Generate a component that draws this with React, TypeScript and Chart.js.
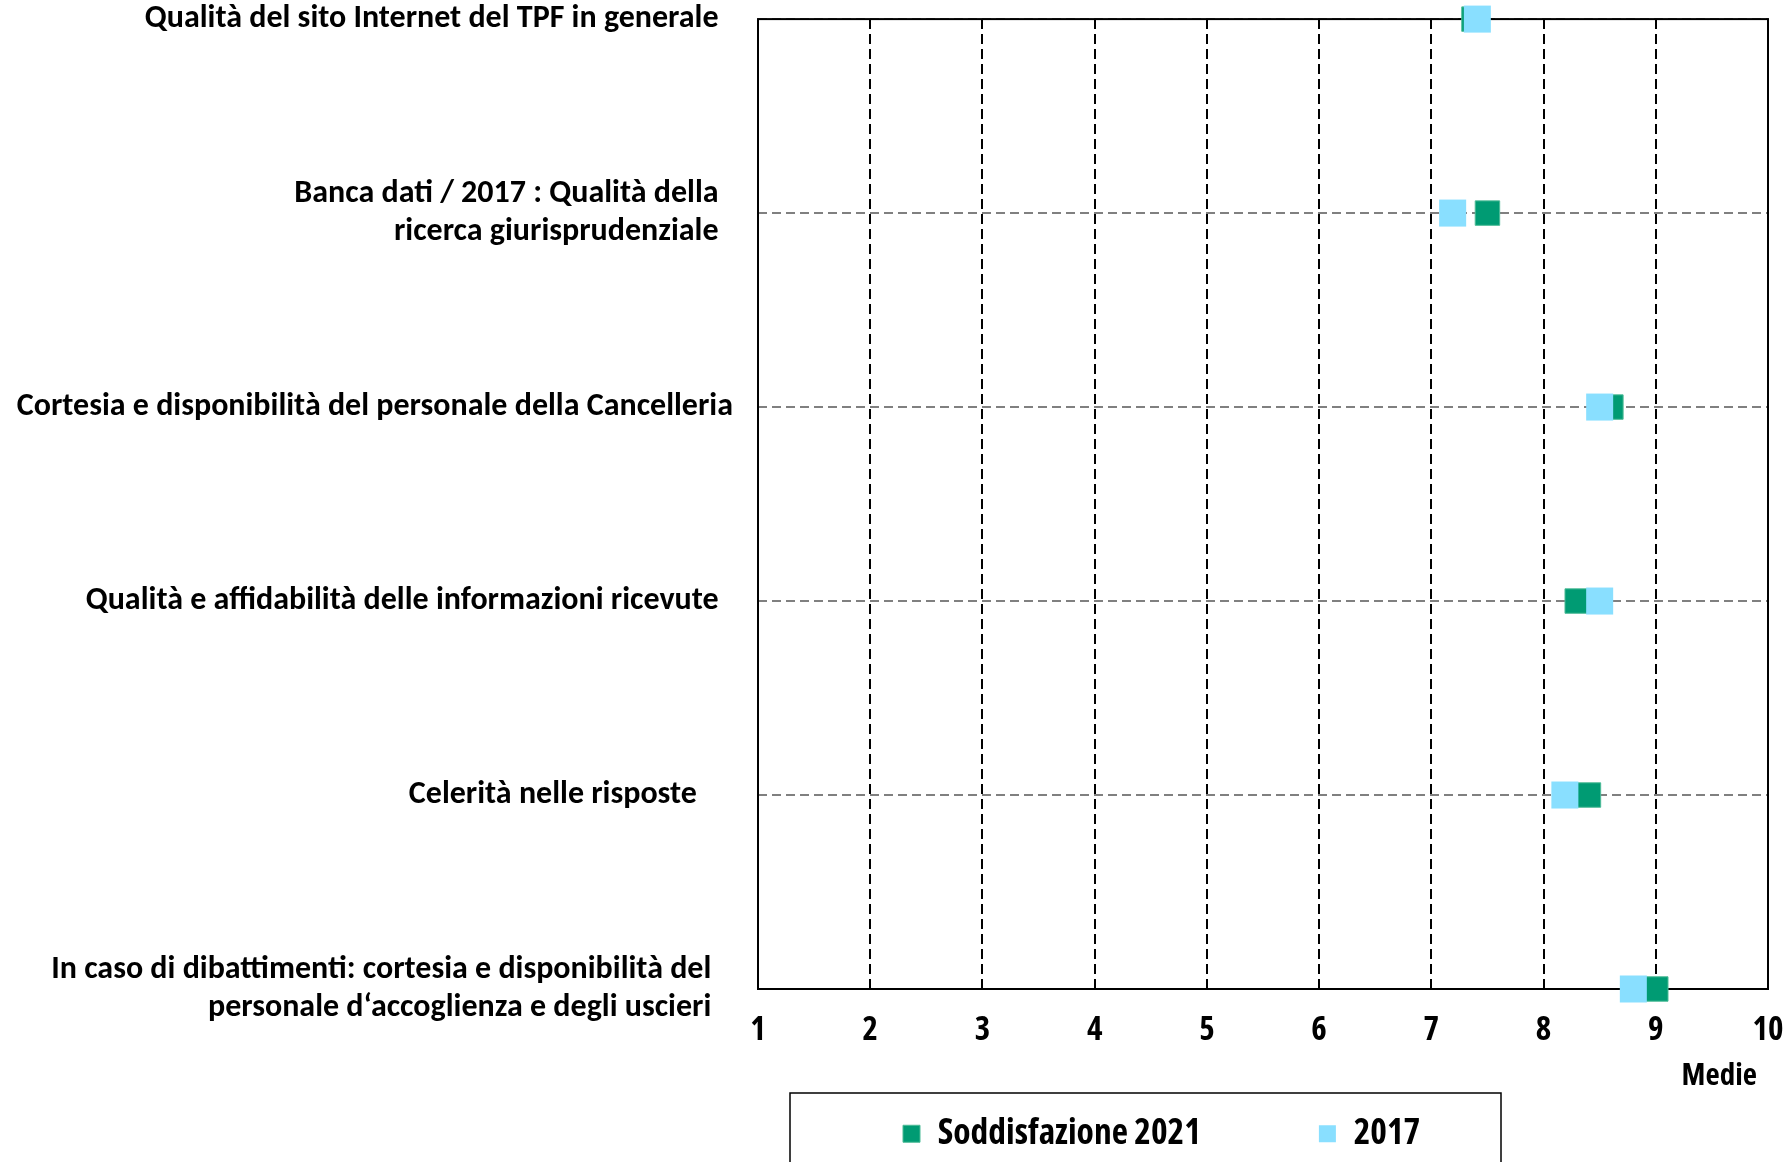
import React, { useEffect, useRef } from "react";
import { Chart, registerables } from "chart.js";

Chart.register(...registerables);

// ---- data ----
const categories: string[][] = [
  ["Qualità del sito Internet del TPF in generale"],
  ["Banca dati / 2017 : Qualità della", "ricerca giurisprudenziale"],
  ["Cortesia e disponibilità del personale della Cancelleria"],
  ["Qualità e affidabilità delle informazioni ricevute"],
  ["Celerità nelle risposte"],
  ["In caso di dibattimenti: cortesia e disponibilità del", "personale d‘accoglienza e degli uscieri"],
];
const soddisfazione2021: number[] = [7.38, 7.5, 8.6, 8.3, 8.4, 9.0];
const values2017: number[] = [7.41, 7.19, 8.5, 8.5, 8.19, 8.8];
const seriesLabels: string[] = ["Soddisfazione 2021", "2017"];
const axisTitle = "Medie";
const xMin = 1;
const xMax = 10;

// ---- style ----
const GREEN = "#009b73";
const CYAN = "#89dfff";
const LABEL_FONT = "Carlito, Lato, 'Open Sans', sans-serif";
const NARROW = "'Open Sans', 'Liberation Sans', sans-serif";
const NARROW_WEIGHT = "bold condensed";
const labelTrail = [2, 2, 0, 2, 5, 3]; // trailing spaces to nudge right edges of category labels

const framePlugin = {
  id: "frame",
  beforeDatasetsDraw(chart: any) {
    const { ctx, chartArea } = chart;
    ctx.save();
    ctx.strokeStyle = "#000";
    ctx.lineWidth = 2;
    ctx.setLineDash([]);
    ctx.strokeRect(chartArea.left, chartArea.top, chartArea.right - chartArea.left, chartArea.bottom - chartArea.top);
    ctx.restore();
  },
};

const legendPlacePlugin = {
  id: "legendPlace",
  afterLayout(chart: any) {
    const lg = chart.legend;
    if (!lg) return;
    const pad = lg.options.labels.padding;
    lg.left = 903 - pad;
    lg.top = 1116 - pad;
  },
  afterDraw(chart: any) {
    const { ctx } = chart;
    ctx.save();
    ctx.strokeStyle = "#000";
    ctx.lineWidth = 1.5;
    ctx.setLineDash([]);
    ctx.strokeRect(790, 1093, 711, 200);
    ctx.restore();
  },
};

export default function App() {
  const ref = useRef<HTMLCanvasElement | null>(null);

  useEffect(() => {
    if (!ref.current) return;
    const chart = new Chart(ref.current, {
      type: "scatter",
      data: {
        datasets: [
          {
            label: seriesLabels[0],
            data: soddisfazione2021.map((v, i) => ({ x: v, y: i })),
            backgroundColor: GREEN,
            borderColor: "#4dbb97",
            borderWidth: 1,
            pointStyle: "rect",
            pointRadius: 17.3,
            pointHoverRadius: 17.3,
            order: 2,
            clip: false,
          },
          {
            label: seriesLabels[1],
            data: values2017.map((v, i) => ({ x: v, y: i })),
            backgroundColor: CYAN,
            borderColor: CYAN,
            borderWidth: 0,
            pointStyle: "rect",
            pointRadius: 19.1,
            pointHoverRadius: 19.1,
            order: 1,
            clip: false,
          },
        ],
      },
      options: {
        animation: false,
        responsive: true,
        maintainAspectRatio: false,
        layout: { padding: { top: 18, right: 23, left: 0, bottom: 0 } },
        events: [],
        plugins: {
          tooltip: { enabled: false },
          legend: {
            position: "bottom",
            align: "start",
            maxHeight: 60,
            labels: {
              boxWidth: 17,
              boxHeight: 17,
              padding: 118,
              color: "#000",
              font: { family: NARROW, size: 35.5, weight: NARROW_WEIGHT },
              sort: (a: any, b: any) => a.datasetIndex - b.datasetIndex,
            },
          },
        },
        scales: {
          x: {
            type: "linear",
            position: "bottom",
            min: xMin,
            max: xMax,
            afterFit: (s: any) => {
              s.height = 113;
              s.paddingLeft = 0;
              s.paddingRight = 0;
            },
            ticks: {
              stepSize: 1,
              color: "#000",
              padding: 22,
              font: { family: NARROW, size: 33, weight: NARROW_WEIGHT },
            },
            grid: { color: "#000", lineWidth: 2, drawTicks: false },
            border: { display: false, dash: [10, 5] },
            title: {
              display: true,
              text: axisTitle + "  ",
              align: "end",
              color: "#000",
              font: { family: NARROW, size: 31, weight: NARROW_WEIGHT },
              padding: { top: 0, bottom: 7 },
            },
          },
          y: {
            type: "linear",
            min: 0,
            max: categories.length - 1,
            reverse: true,
            afterFit: (s: any) => {
              s.width = 758;
              s.paddingTop = 0;
              s.paddingBottom = 0;
            },
            ticks: {
              stepSize: 1,
              autoSkip: false,
              padding: 25,
              color: "#000",
              font: { family: LABEL_FONT, size: 32, weight: "bold", lineHeight: 1.18 },
              callback: (value: any) => {
                const i = Number(value);
                if (!Number.isInteger(i) || !categories[i]) return "";
                return categories[i].map((l) => l + " ".repeat(labelTrail[i]));
              },
            },
            grid: { color: "#808080", lineWidth: 2, drawTicks: false },
            border: { display: false, dash: [9, 5] },
          },
        },
      } as any,
      plugins: [framePlugin, legendPlacePlugin],
    });
    return () => chart.destroy();
  }, []);

  return (
    <div style={{ position: "fixed", left: 0, top: 0, width: "100vw", height: "100vh", background: "#fff" }}>
      <canvas ref={ref} />
    </div>
  );
}
